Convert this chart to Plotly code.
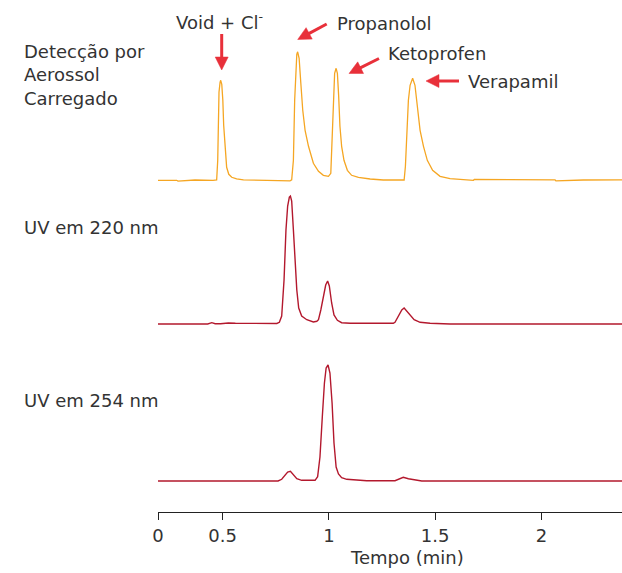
import math
import plotly.graph_objects as go

# ---------------- data ----------------
# Charged Aerosol Detection trace
cad_time = [0.193, 0.284, 0.290, 0.347, 0.352, 0.370, 0.455, 0.472, 0.477, 0.480, 0.483,
            0.488, 0.491, 0.496, 0.501, 0.505, 0.512, 0.519, 0.529, 0.543, 0.566, 0.598,
            0.708, 0.817, 0.825, 0.833, 0.839, 0.844, 0.849, 0.853, 0.860, 0.868, 0.877,
            0.888, 0.904, 0.927, 0.951, 0.974, 0.998, 1.009, 1.015, 1.021, 1.027, 1.034,
            1.040, 1.046, 1.052, 1.060, 1.071, 1.087, 1.107, 1.139, 1.194, 1.256, 1.350,
            1.354, 1.360, 1.366, 1.374, 1.382, 1.394, 1.405, 1.416, 1.429, 1.445, 1.463,
            1.488, 1.523, 1.570, 1.648, 1.680, 1.684, 1.884, 2.064, 2.068, 2.197, 2.370, 2.379]
cad_signal = [0.0, 0.0, -0.8, 0.0, -0.6, 0.3, 0.0, 0.3, 20, 60, 88,
              98, 100, 96, 80, 55, 30, 13, 6, 3, 1.5, 0.5,
              0.0, -0.5, 0.5, 20, 80, 114, 126, 128.5, 122, 97, 70,
              50, 34, 17, 9, 5, 4, 7, 47, 87, 107, 112,
              107, 84, 54, 34, 20, 10, 5, 3, 1.3, 0.3, 0.0,
              0.3, 14, 47, 80, 95, 102, 95, 74, 50, 34, 20,
              10, 4, 1.7, 0.3, 0.0, 0.8, 0.5, 0.5, -0.6, 0.3, 0.5, 0.5]

# UV 220 nm trace
uv220_time = [0.193, 0.430, 0.449, 0.465, 0.490, 0.527, 0.560, 0.755, 0.767, 0.778, 0.789,
              0.798, 0.806, 0.814, 0.819, 0.825, 0.833, 0.841, 0.849, 0.858, 0.872, 0.896,
              0.927, 0.943, 0.951, 0.962, 0.974, 0.985, 0.994, 1.002, 1.013, 1.024, 1.040,
              1.060, 1.100, 1.303, 1.311, 1.327, 1.343, 1.354, 1.366, 1.382, 1.401, 1.429,
              1.476, 1.570, 2.379]
uv220_signal = [0.0, 0.0, 1.3, 0.3, 0.3, 1.0, 0.7, 0.5, 1.7, 8, 44,
                94, 118, 127, 128, 123, 94, 61, 34, 16, 8, 4.3,
                2.0, 2.7, 4.3, 14, 29, 39, 43, 38, 21, 9, 3.7,
                1.3, 0.7, 0.7, 1.7, 8, 14, 16, 13, 8, 4.3, 1.7,
                0.7, 0.0, 0.0]

# UV 254 nm trace
uv254_time = [0.193, 0.761, 0.778, 0.794, 0.806, 0.819, 0.833, 0.849, 0.872, 0.935, 0.947,
              0.958, 0.969, 0.979, 0.987, 0.996, 1.005, 1.015, 1.024, 1.034, 1.045, 1.060,
              1.084, 1.178, 1.311, 1.327, 1.350, 1.374, 1.405, 1.437, 2.379]
uv254_signal = [0.0, 0.0, 1.7, 6, 9, 9.7, 6, 2.3, 0.7, 0.7, 4.3,
                24, 64, 98, 113, 116, 108, 78, 38, 14, 7, 3.3,
                1.7, 0.3, 0.3, 1.7, 3.7, 2.3, 1.0, 0.0, 0.0]

trace_labels = ["Detecção por<br>Aerossol<br>Carregado", "UV em 220 nm", "UV em 254 nm"]
peak_labels = ["Void + Cl<sup>-</sup>", "Propanolol", "Ketoprofen", "Verapamil"]

tick_vals = [0.196, 0.5, 1.0, 1.5, 2.0]
tick_text = ["0", "0.5", "1", "1.5", "2"]
x_title = "Tempo (min)"

# ---------------- styling ----------------
W, H = 622, 573
ML, MR, MT, MB = 158, 0, 0, 61
PW, PH = W - ML - MR, H - MT - MB
FONT = "DejaVu Sans"
TXT = "#333333"
ORANGE = "#f5a623"
CRIMSON = "#b3182d"
RED = "#e8303a"


def px(xp):
    return (xp - ML) / PW


def py(yp):
    return (PH - (yp - MT)) / PH


fig = go.Figure()
fig.add_trace(go.Scatter(x=cad_time, y=cad_signal, mode="lines", xaxis="x", yaxis="y",
                         line=dict(color=ORANGE, width=1.3), hoverinfo="skip"))
fig.add_trace(go.Scatter(x=uv220_time, y=uv220_signal, mode="lines", xaxis="x", yaxis="y2",
                         line=dict(color=CRIMSON, width=1.4), hoverinfo="skip"))
fig.add_trace(go.Scatter(x=uv254_time, y=uv254_signal, mode="lines", xaxis="x", yaxis="y3",
                         line=dict(color=CRIMSON, width=1.4), hoverinfo="skip"))

yr = [-5, 135]


def dom(base):
    return [py(base + 5), py(base - 135)]


annotations = []
# trace labels on the left
for txt, yc in zip(trace_labels, [75, 227, 400]):
    annotations.append(dict(text=txt, x=px(22), y=py(yc), xref="paper", yref="paper",
                            xanchor="left", yanchor="middle", align="left", showarrow=False,
                            font=dict(family=FONT, size=18, color=TXT)))

# peak labels
for txt, (xl, yc) in zip(peak_labels, [(174, 21), (335, 23), (386, 53), (466, 81)]):
    annotations.append(dict(text=txt, x=px(xl), y=py(yc), xref="paper", yref="paper",
                            xanchor="left", yanchor="middle", showarrow=False,
                            font=dict(family=FONT, size=18, color=TXT)))

# axis title
annotations.append(dict(text=x_title, x=px(407), y=py(557), xref="paper", yref="paper",
                        xanchor="center", yanchor="middle", showarrow=False,
                        font=dict(family=FONT, size=18, color=TXT)))

# red arrows drawn as shapes: (tail) -> (head tip), in page pixels
arrows = [((221.7, 34), (221.7, 70)), ((326.7, 24), (297.7, 39.5)),
          ((379, 58.5), (349, 73.5)), ((459, 81), (426, 81))]
shapes = []
HL, HW = 13.0, 6.5
for (tx, ty), (hx, hy) in arrows:
    dx, dy = hx - tx, hy - ty
    L = math.hypot(dx, dy)
    ux, uy = dx / L, dy / L
    bx, by = hx - ux * HL, hy - uy * HL
    nx, ny = -uy, ux
    shapes.append(dict(type="line", xref="paper", yref="paper",
                       x0=px(tx), y0=py(ty), x1=px(bx + ux), y1=py(by + uy),
                       line=dict(color=RED, width=3)))
    p1 = (bx + nx * HW, by + ny * HW)
    p2 = (bx - nx * HW, by - ny * HW)
    path = "M {:.5f} {:.5f} L {:.5f} {:.5f} L {:.5f} {:.5f} Z".format(
        px(hx), py(hy), px(p1[0]), py(p1[1]), px(p2[0]), py(p2[1]))
    shapes.append(dict(type="path", xref="paper", yref="paper", path=path,
                       fillcolor=RED, line=dict(color=RED, width=0.5)))

fig.update_layout(
    width=W, height=H,
    margin=dict(l=ML, r=MR, t=MT, b=MB, pad=0),
    paper_bgcolor="white", plot_bgcolor="white",
    showlegend=False,
    xaxis=dict(range=[0.196, 2.379], anchor="free", position=0,
               tickmode="array", tickvals=tick_vals, ticktext=tick_text,
               showline=True, linecolor="#222222", linewidth=1.3,
               ticks="outside", ticklen=7, tickwidth=1.3, tickcolor="#222222",
               showgrid=False, zeroline=False,
               tickfont=dict(family=FONT, size=18, color=TXT)),
    yaxis=dict(domain=dom(180.3), range=yr, visible=False, anchor="x"),
    yaxis2=dict(domain=dom(324), range=yr, visible=False, anchor="x"),
    yaxis3=dict(domain=dom(481), range=yr, visible=False, anchor="x"),
    annotations=annotations,
    shapes=shapes,
)

fig.write_html("out.html")
